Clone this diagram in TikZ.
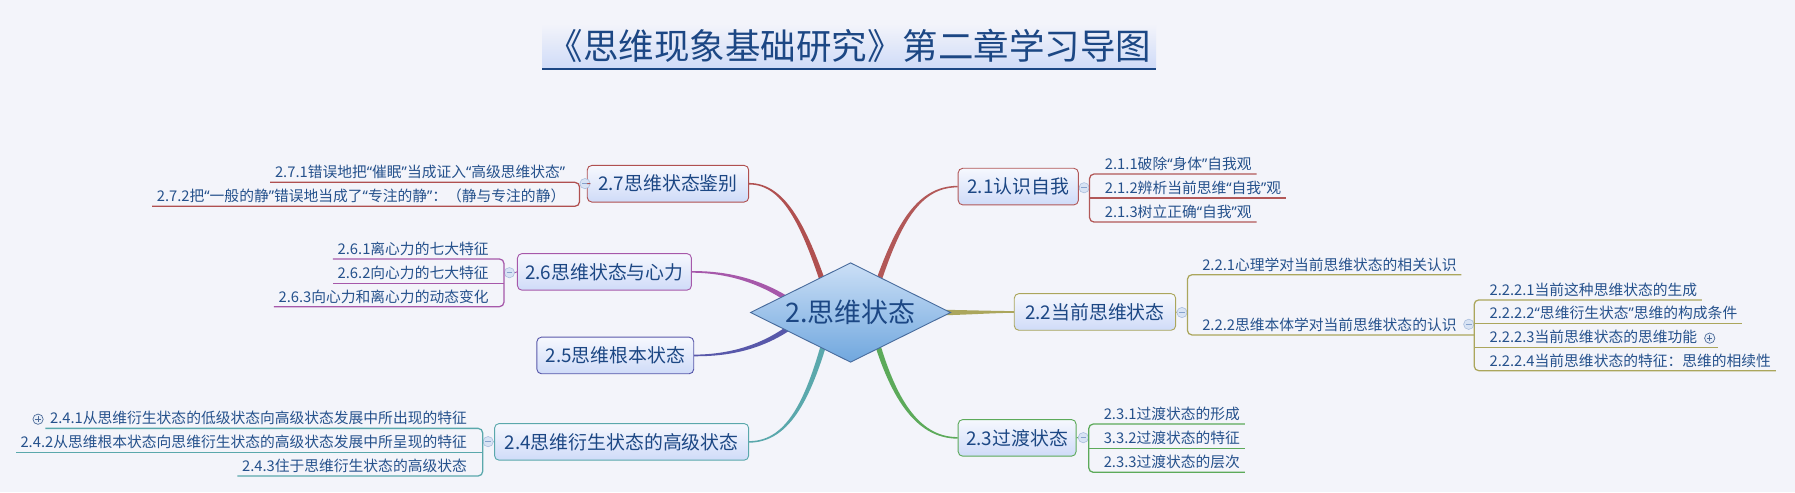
\documentclass[tikz,border=0pt]{standalone}
\usepackage{fontspec}
\setmainfont{Noto Sans CJK SC}
\newfontfamily\latinq{Noto Sans}
\newcommand\inquote[1]{{\latinq “}#1{\latinq ”}}
\usetikzlibrary{shapes.geometric,positioning,calc,backgrounds}
\definecolor{bg}{HTML}{F3F4FA}
\definecolor{boxtop}{HTML}{F6F8FE}
\definecolor{boxbot}{HTML}{CFDBF8}
\definecolor{navy}{HTML}{1C4784}
\definecolor{subnavy}{HTML}{25518C}
\definecolor{b21}{HTML}{B25858}
\definecolor{b22}{HTML}{ABA65C}
\definecolor{b23}{HTML}{5CAA5A}
\definecolor{b24}{HTML}{5AA8AC}
\definecolor{b25}{HTML}{5858AA}
\definecolor{b26}{HTML}{A658AA}
\definecolor{b27}{HTML}{B05050}
\definecolor{foldline}{HTML}{A9BDDD}
\definecolor{foldfill}{HTML}{D8E3F4}
\definecolor{foldsign}{HTML}{86A2CC}
\definecolor{plusline}{HTML}{4C6A98}
\definecolor{roottop}{HTML}{CBDFF6}
\definecolor{rootbot}{HTML}{70A7DE}
\begin{document}
\begin{tikzpicture}[x=1pt,y=-1pt,
    titlebox/.style={minimum width=536pt, minimum height=39pt, inner sep=0pt,
        top color=bg, bottom color=boxbot, text=navy, font=\fontsize{31}{34}\selectfont},
    root/.style={diamond, aspect=2, minimum width=175pt, minimum height=87pt, inner sep=0pt,
        draw=navy!80, line width=0.8pt, top color=roottop, bottom color=rootbot,
        text=navy, font=\fontsize{23.5}{26}\selectfont},
    topic/.style={rounded corners=4pt, line width=0.8pt, top color=boxtop, bottom color=boxbot,
        text=navy, minimum height=32pt, inner xsep=3pt, font=\fontsize{16.5}{18}\selectfont},
    sub/.style={inner xsep=4pt, inner ysep=2.8pt, text height=9pt, text depth=1pt,
        text=subnavy, font=\fontsize{12.9}{14}\selectfont},
    ul/.style={line width=1.1pt},
    fold/.style={circle, draw=foldline, fill=foldfill, minimum size=9pt, inner sep=0pt, line width=0.5pt,
        path picture={\draw[foldsign, line width=0.8pt] ([xshift=-2.4pt]path picture bounding box.center)
            -- ([xshift=2.4pt]path picture bounding box.center);}},
    unfold/.style={circle, draw=plusline, fill=foldfill!60, minimum size=9pt, inner sep=0pt, line width=0.6pt,
        path picture={\draw[plusline, line width=0.8pt] ([xshift=-2.4pt]path picture bounding box.center)
            -- ([xshift=2.4pt]path picture bounding box.center)
            ([yshift=-2.4pt]path picture bounding box.center)
            -- ([yshift=2.4pt]path picture bounding box.center);}}]
\useasboundingbox (0,0) rectangle (1568,430);

% title
\node[titlebox] (title) at (742,40.5) {《思维现象基础研究》第二章学习导图};
\draw[navy, line width=1.4pt] (title.south west) -- (title.south east);

% centre and main topics
\node[root] (root) at (743,273) {2.思维状态};
\node[topic, draw=b21, minimum width=105pt] (t21) at (889.5,163) {2.1认识自我};
\node[topic, draw=b22, minimum width=141pt] (t22) at (956.5,272.5) {2.2当前思维状态};
\node[topic, draw=b23, minimum width=103pt] (t23) at (888.5,382.5) {2.3过渡状态};
\node[topic, draw=b24, minimum width=222pt] (t24) at (543,386) {2.4思维衍生状态的高级状态};
\node[topic, draw=b25, minimum width=137pt] (t25) at (537.5,310.5) {2.5思维根本状态};
\node[topic, draw=b26, minimum width=152pt] (t26) at (528,237.5) {2.6思维状态与心力};
\node[topic, draw=b27, minimum width=141pt] (t27) at (583.5,160.5) {2.7思维状态鉴别};

% fold buttons
\node[fold] (f21) at (947,164) {};
\node[fold] (f22) at (1032.5,273) {};
\node[fold] (f222) at (1283,283.3) {};
\node[fold] (f23) at (946.3,382.3) {};
\node[fold] (f24) at (426.4,385.8) {};
\node[fold] (f26) at (445,238.2) {};
\node[fold] (f27) at (511,160.4) {};

% right side items
\foreach \i/\y/\t in {1/152/{2.1.1破除\inquote{身体}自我观},2/173/{2.1.2辨析当前思维\inquote{自我}观},3/194/{2.1.3树立正确\inquote{自我}观}}
    {\node[sub, anchor=south west] (s21\i) at (961,\y) {\t};}
\node[sub, anchor=south west] (s221) at (1046,240) {2.2.1心理学对当前思维状态的相关认识};
\node[sub, anchor=south west] (s222) at (1046,292.6) {2.2.2思维本体学对当前思维状态的认识};
\foreach \i/\y/\t in {1/262/{2.2.2.1当前这种思维状态的生成},2/282.4/{2.2.2.2\inquote{思维衍生状态}思维的构成条件},
        3/303.4/{2.2.2.3当前思维状态的思维功能},4/323.8/{2.2.2.4当前思维状态的特征：思维的相续性}}
    {\node[sub, anchor=south west] (s222\i) at (1297,\y) {\t};}
\node[unfold, right=2pt of s2223] (p2223) {};
\foreach \i/\y/\t in {1/370.4/{2.3.1过渡状态的形成},2/391.6/{3.3.2过渡状态的特征},3/412.6/{2.3.3过渡状态的层次}}
    {\node[sub, anchor=south west] (s23\i) at (960,\y) {\t};}

% left side items
\foreach \i/\y/\t in {1/159.3/{2.7.1错误地把\inquote{催眠}当成证入\inquote{高级思维状态}},
        2/180.2/{2.7.2把\inquote{一般的静}错误地当成了\inquote{专注的静}：（静与专注的静）}}
    {\node[sub, anchor=south east] (s27\i) at (498,\y) {\t};}
\foreach \i/\y/\t in {1/226.2/{2.6.1离心力的七大特征},2/247.5/{2.6.2向心力的七大特征},3/267.9/{2.6.3向心力和离心力的动态变化}}
    {\node[sub, anchor=south east] (s26\i) at (431,\y) {\t};}
\foreach \i/\y/\t in {1/374.2/{2.4.1从思维衍生状态的低级状态向高级状态发展中所出现的特征},
        2/395.1/{2.4.2从思维根本状态向思维衍生状态的高级状态发展中所呈现的特征},3/415.8/{2.4.3住于思维衍生状态的高级状态}}
    {\node[sub, anchor=south east] (s24\i) at (412,\y) {\t};}
\node[unfold, left=1.5pt of s241] (p241) {};

% brackets
\draw[b21, line width=0.8pt] (t21.east) -- (f21.west);
\draw[b21, ul, rounded corners=4pt] (s211.south east) -- (s211.south -| f21.east) -- (s213.south -| f21.east) -- (s213.south east);
\draw[b21, ul] (s212.south -| f21.east) -- (s212.south east);
\draw[b22, line width=0.8pt] (t22.east) -- (f22.west);
\draw[b22, ul, rounded corners=4pt] (s221.south east) -- (s221.south -| f22.east) -- (s222.south -| f22.east) -- (s222.south -| f222.east);
\draw[b22, ul, rounded corners=4pt] (s2221.south east) -- (s2221.south -| f222.east) -- (s2224.south -| f222.east) -- (s2224.south east);
\draw[b22, ul] (s2222.south -| f222.east) -- (s2222.south east);
\draw[b22, ul] (s2223.south -| f222.east) -- ([xshift=2pt]s2223.south -| p2223.east);
\draw[b23, line width=0.8pt] (t23.east) -- (f23.west);
\draw[b23, ul, rounded corners=4pt] (s231.south east) -- (s231.south -| f23.east) -- (s233.south -| f23.east) -- (s233.south east);
\draw[b23, ul] (s232.south -| f23.east) -- (s232.south east);
\draw[b27, line width=0.8pt] (t27.west) -- (f27.east);
\draw[b27, ul, rounded corners=4pt] (s271.south west) -- (s271.south -| f27.west) -- (s272.south -| f27.west) -- (s272.south west);
\draw[b26, line width=0.8pt] (t26.west) -- (f26.east);
\draw[b26, ul, rounded corners=4pt] (s261.south west) -- (s261.south -| f26.west) -- (s263.south -| f26.west) -- (s263.south west);
\draw[b26, ul] (s262.south -| f26.west) -- (s262.south west);
\draw[b24, line width=0.8pt] (t24.west) -- (f24.east);
\draw[b24, ul, rounded corners=4pt] (s241.south west) -- (s241.south -| f24.west) -- (s243.south -| f24.west) -- (s243.south west);
\draw[b24, ul] (s242.south -| f24.west) -- (s242.south west);

% branches from the centre
\begin{scope}[on background layer]
\fill[bg] (0,0) rectangle (1568,430);
\foreach \e/\sx/\sy/\ax/\ay/\bx/\by/\col in {
        t21.west/762/262/782/200/800/163/b21, t22.west/820/273/845/273/865/272.5/b22,
        t23.west/762/285/778/345/800/382.5/b23, t24.east/724/285/708/345/690/386/b24,
        t25.east/700/278/672/302/640/310.5/b25, t26.east/700/270/672/248/640/237.5/b26,
        t27.east/724/262/704/200/686/160.5/b27}
    \fill[\col] ($(\sx,\sy)!2.5pt!90:(\ax,\ay)$) .. controls ($(\ax,\ay)!2pt!90:(\bx,\by)$) and ($(\bx,\by)!1pt!-90:(\ax,\ay)$)
        .. ($(\e)!0.7pt!-90:(\bx,\by)$) -- ($(\e)!0.7pt!90:(\bx,\by)$)
        .. controls ($(\bx,\by)!1pt!90:(\ax,\ay)$) and ($(\ax,\ay)!2pt!-90:(\bx,\by)$) .. ($(\sx,\sy)!2.5pt!-90:(\ax,\ay)$) -- cycle;
\end{scope}
\end{tikzpicture}
\end{document}
